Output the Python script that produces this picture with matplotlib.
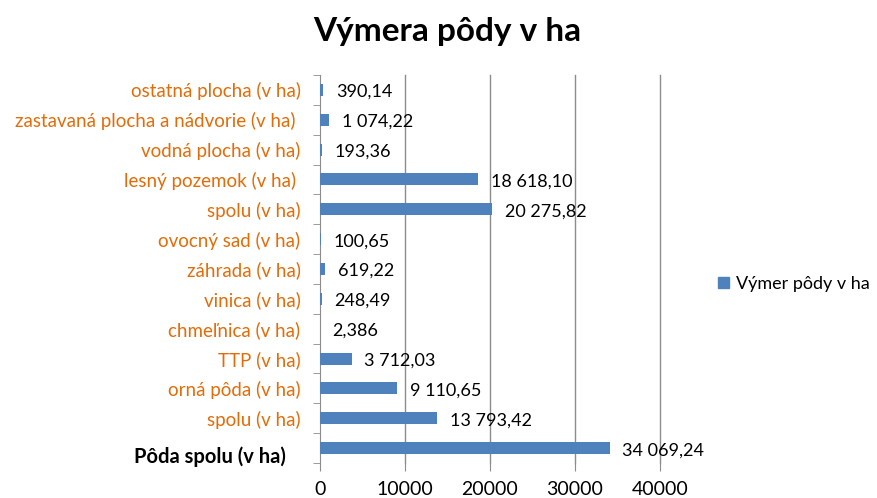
import matplotlib
matplotlib.use("Agg")
import matplotlib.pyplot as plt
import matplotlib.transforms as mtransforms
from matplotlib.patches import Patch
import numpy as np

categories = [
    "Pôda spolu (v ha)   ",
    "spolu (v ha)",
    "orná pôda (v ha)",
    "TTP (v ha)",
    "chmeľnica (v ha)",
    "vinica (v ha)",
    "záhrada (v ha)",
    "ovocný sad (v ha)",
    "spolu (v ha)",
    "lesný pozemok (v ha) ",
    "vodná plocha (v ha)",
    "zastavaná plocha a nádvorie (v ha) ",
    "ostatná plocha (v ha)",
]
values = [34069.24, 13793.42, 9110.65, 3712.03, 2.386, 248.49, 619.22,
          100.65, 20275.82, 18618.10, 193.36, 1074.22, 390.14]
value_labels = ["34 069,24", "13 793,42", "9 110,65", "3 712,03", "2,386",
                "248,49", "619,22", "100,65", "20 275,82", "18 618,10",
                "193,36", "1 074,22", "390,14"]
xticks = [0, 10000, 20000, 30000, 40000]
series_name = "Výmer pôdy v ha"
title = "Výmera pôdy v ha"

plt.rcParams['font.family'] = ['Lato', 'DejaVu Sans']

W, H = 877, 498
fig = plt.figure(figsize=(W / 100, H / 100), dpi=100)
ax = fig.add_axes([320 / W, 1 - 463 / H, 340 / W, 388 / H])

bar_color = "#4F81BD"
orange = "#E36C09"
grid_color = "#8C8C8C"

y = np.arange(len(categories))
ax.barh(y, values, height=0.4, color=bar_color, zorder=3)
ax.set_xlim(0, 40000)
ax.set_ylim(-0.5, len(categories) - 0.5)

for yi, v, lab in zip(y, values, value_labels):
    ax.annotate(lab, (v, yi), xytext=(9, -1.5), textcoords="offset points",
                ha="left", va="center", fontsize=13, color="black", zorder=4)

ax.set_xticks(xticks)
ax.set_xticklabels([str(t) for t in xticks], fontsize=14)
ax.tick_params(axis="x", direction="out", length=6, color=grid_color, pad=7)
for xv in xticks[1:]:
    ax.axvline(xv, color=grid_color, lw=1, zorder=1, clip_on=False)

ax.set_yticks(y)
ax.set_yticklabels(categories, fontsize=13.5)
ax.tick_params(axis="y", length=0, pad=14)
ax.set_yticks(np.arange(len(categories) + 1) - 0.5, minor=True)
ax.tick_params(axis="y", which="minor", length=5, color=grid_color, direction="out")

for i, tl in enumerate(ax.get_yticklabels()):
    if i == 0:
        tl.set_color("black")
        tl.set_fontweight("bold")
        tl.set_fontsize(14.5)
        tl.set_transform(tl.get_transform() + mtransforms.ScaledTranslation(0, -7 / 100, fig.dpi_scale_trans))
    else:
        tl.set_color(orange)

for s in ["top", "right", "bottom"]:
    ax.spines[s].set_visible(False)
ax.spines["left"].set_color(grid_color)

fig.text(447 / W, 1 - 32 / H, title, ha="center", va="center",
         fontsize=24, fontweight="bold")

fig.legend(handles=[Patch(color=bar_color, label=series_name)],
           loc="center left", bbox_to_anchor=(718 / W, 1 - 284 / H),
           frameon=False, fontsize=13, handlelength=0.6, handleheight=0.6,
           handletextpad=0.4, borderaxespad=0, borderpad=0)

fig.savefig("out.png", dpi=100)
